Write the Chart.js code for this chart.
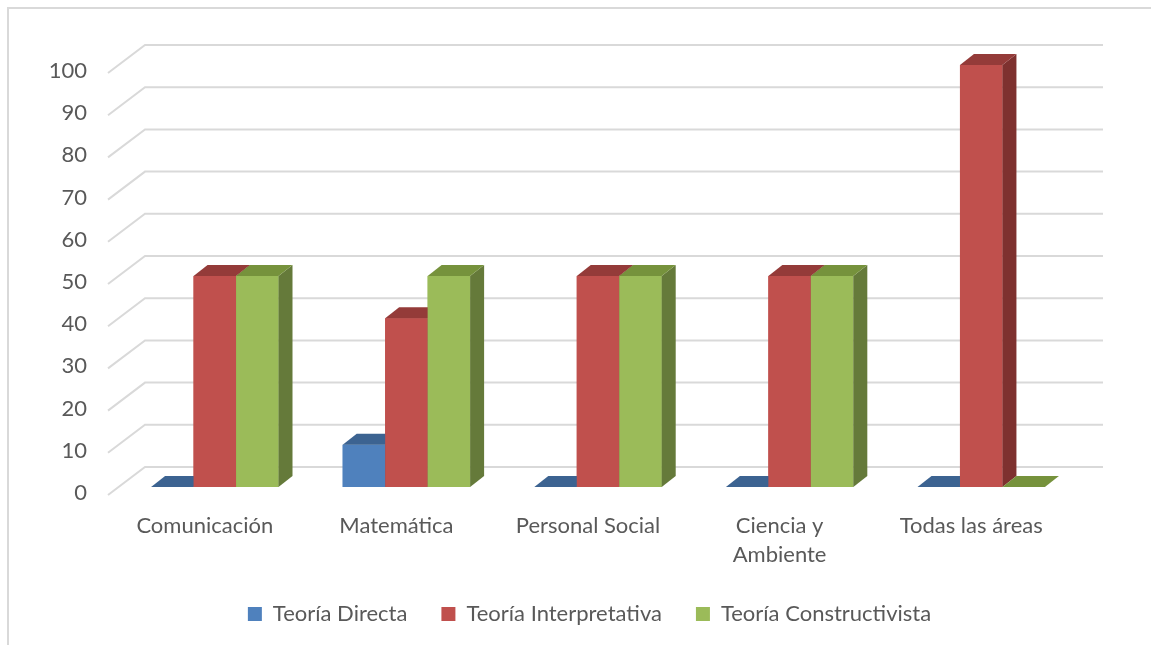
<!DOCTYPE html>
<html>
<head>
<meta charset="utf-8">
<script src="https://cdn.jsdelivr.net/npm/chart.js@4"></script>
<style>
  body { margin: 0; background: #fff; }
  #wrap { position: relative; width: 1151px; height: 645px; overflow: hidden; }
  #frame { position: absolute; left: 7px; top: 7px; width: 1200px; height: 700px;
           border-left: 2px solid #d9d9d9; border-top: 2px solid #d9d9d9; }
  #chart { position: absolute; left: 0; top: 0; }
</style>
</head>
<body>
<div id="wrap">
  <div id="frame"></div>
  <canvas id="chart" width="1151" height="645"></canvas>
</div>
<script>
// data
const categories = ['Comunicación', 'Matemática', 'Personal Social', ['Ciencia y', 'Ambiente'], 'Todas las áreas'];
const teoriaDirecta = [0, 10, 0, 0, 0];
const teoriaInterpretativa = [50, 40, 50, 50, 100];
const teoriaConstructivista = [50, 50, 50, 50, 0];
const seriesNames = ['Teoría Directa', 'Teoría Interpretativa', 'Teoría Constructivista'];

const textColor = '#595959';
const fontFamily = 'Lato, "Liberation Sans", sans-serif';

// front / top / side colours per series
const faceColors = [
    { front: '#4f81bd', top: '#3c6391', side: '#345a85' },
    { front: '#c0504d', top: '#943b39', side: '#7e312f' },
    { front: '#9bbb59', top: '#76923c', side: '#657a3a' }
];

// 3d offsets (pixels)
const BAR_DX = 14, BAR_DY = -11;      // depth of a bar
const WALL_DX = 26, WALL_DY = -20;    // back wall relative to bar front
const FLOOR_DX = -11, FLOOR_DY = 8;   // front floor edge relative to bar front

function fillPoly(ctx, color, pts) {
    ctx.fillStyle = color;
    ctx.beginPath();
    ctx.moveTo(pts[0][0], pts[0][1]);
    for (let i = 1; i < pts.length; i++) ctx.lineTo(pts[i][0], pts[i][1]);
    ctx.closePath();
    ctx.fill();
}

const grid3d = {
    id: 'grid3d',
    beforeDatasetsDraw(chart) {
        const ctx = chart.ctx;
        const y = chart.scales.y;
        const area = chart.chartArea;
        ctx.save();
        ctx.strokeStyle = '#d9d9d9';
        ctx.lineWidth = 2;
        y.ticks.forEach(t => {
            const py = y.getPixelForValue(t.value);
            ctx.beginPath();
            ctx.moveTo(area.left + FLOOR_DX, py + FLOOR_DY);
            ctx.lineTo(area.left + WALL_DX, py + WALL_DY);
            ctx.lineTo(area.right + WALL_DX, py + WALL_DY);
            ctx.stroke();
        });
        ctx.restore();
    },
    // chart.js paints the datasets last-to-first, so repaint every bar
    // (front, side, top) left to right for correct overlap
    afterDatasetsDraw(chart) {
        const ctx = chart.ctx;
        const metas = chart.data.datasets.map((d, i) => chart.getDatasetMeta(i));
        ctx.save();
        categories.forEach((cat, j) => {
            metas.forEach((meta, i) => {
                const bar = meta.data[j];
                if (!bar) return;
                const c = faceColors[i];
                const p = bar.getProps(['x', 'y', 'base', 'width'], true);
                const L = p.x - p.width / 2, R = p.x + p.width / 2;
                if (p.base - p.y > 0.5) {
                    fillPoly(ctx, c.front, [[L, p.y], [R, p.y], [R, p.base], [L, p.base]]);
                    fillPoly(ctx, c.side, [[R, p.y], [R + BAR_DX, p.y + BAR_DY],
                        [R + BAR_DX, p.base + BAR_DY], [R, p.base]]);
                }
                fillPoly(ctx, c.top, [[L, p.y], [L + BAR_DX, p.y + BAR_DY],
                    [R + BAR_DX, p.y + BAR_DY], [R, p.y]]);
            });
        });
        ctx.restore();
    }
};

const seriesData = [teoriaDirecta, teoriaInterpretativa, teoriaConstructivista];

new Chart(document.getElementById('chart'), {
    type: 'bar',
    data: {
        labels: categories,
        datasets: seriesData.map((d, i) => ({
            label: seriesNames[i],
            data: d,
            backgroundColor: faceColors[i].front,
            borderWidth: 0,
            clip: false,
            categoryPercentage: 0.665,
            barPercentage: 1
        }))
    },
    options: {
        responsive: false,
        animation: false,
        layout: { padding: { left: 28, right: 0, top: 65, bottom: 10 } },
        scales: {
            x: {
                grid: { display: false, drawTicks: false },
                border: { display: false },
                ticks: {
                    color: textColor,
                    font: { family: fontFamily, size: 22, lineHeight: 1.32 },
                    padding: 24,
                    labelOffset: -10,
                    maxRotation: 0,
                    autoSkip: false
                },
                afterFit(axis) { axis.height = 82; }
            },
            y: {
                min: 0,
                max: 100,
                grid: { display: false, drawTicks: false },
                border: { display: false },
                ticks: {
                    stepSize: 10,
                    color: textColor,
                    font: { family: fontFamily, size: 22 },
                    padding: 32,
                    labelOffset: 6
                },
                afterFit(axis) { axis.width = 91; }
            },
            // empty right axis, only reserves the space right of the plot
            yRight: {
                position: 'right',
                min: 0,
                max: 100,
                grid: { display: false, drawTicks: false },
                border: { display: false },
                ticks: { display: false },
                afterFit(axis) { axis.width = 74; }
            }
        },
        plugins: {
            legend: {
                position: 'bottom',
                labels: {
                    boxWidth: 14,
                    boxHeight: 14,
                    padding: 34,
                    color: textColor,
                    font: { family: fontFamily, size: 22 }
                }
            },
            tooltip: { enabled: false }
        }
    },
    plugins: [grid3d]
});
</script>
</body>
</html>
